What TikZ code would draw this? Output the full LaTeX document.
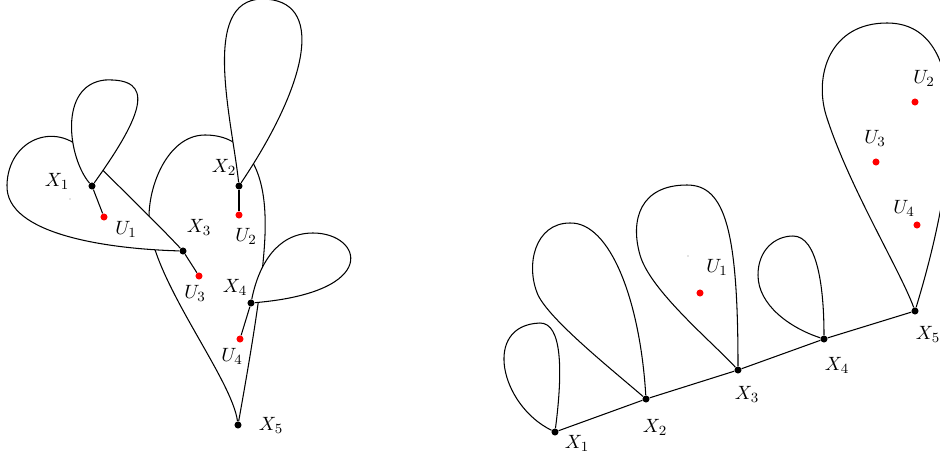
\documentclass[tikz,border=0pt]{standalone}
\usepackage{tikz}
\usetikzlibrary{positioning, backgrounds}
\definecolor{uptred}{HTML}{FF0000}
\tikzset{
  vxnode/.style={circle,fill=black,inner sep=0pt,minimum size=4pt},
  upnode/.style={circle,fill=uptred,inner sep=0pt,minimum size=4pt},
  specknode/.style={circle,fill=black!45,inner sep=0pt,minimum size=0.7pt},
  lblnode/.style={inner sep=0pt,font=\fontsize{11}{13}\selectfont},
  petal/.style={draw=black,fill=white,line width=0.6pt},
  stem/.style={line width=0.6pt},
}

\begin{document}
\begin{tikzpicture}[x=0.02cm,y=-0.02cm]
  \useasboundingbox (0,0) rectangle (940,460);
  % left picture
  \node[vxnode] (lx1) at (92,186) {};
  \node[vxnode] (lx2) at (239,186) {};
  \node[vxnode] (lx3) at (183,251) {};
  \node[vxnode] (lx4) at (251,303) {};
  \node[vxnode] (lx5) at (238,425) {};
  \node[upnode] (lu1) at (104,217) {};
  \node[upnode] (lu2) at (239,215) {};
  \node[upnode] (lu3) at (199,276) {};
  \node[upnode] (lu4) at (240,339) {};
  \node[specknode] (lsp) at (70,199) {};
  \node[lblnode] (llx1) at (57,181) {$X_1$};
  \node[lblnode] (llx2) at (224,167) {$X_2$};
  \node[lblnode] (llx3) at (199,227) {$X_3$};
  \node[lblnode] (llx4) at (235,287) {$X_4$};
  \node[lblnode] (llx5) at (271,425) {$X_5$};
  \node[lblnode] (llu1) at (126,229) {$U_1$};
  \node[lblnode] (llu2) at (246,236) {$U_2$};
  \node[lblnode] (llu3) at (195,293) {$U_3$};
  \node[lblnode] (llu4) at (232,356) {$U_4$};
  \draw[stem] (lx1) -- (lu1);
  \draw[stem] (lx2) -- (lu2);
  \draw[stem] (lx3) -- (lu3);
  \draw[stem] (lx4) -- (lu4);
  % right picture
  \node[vxnode] (rx1) at (555,432) {};
  \node[vxnode] (rx2) at (646,399) {};
  \node[vxnode] (rx3) at (738,370) {};
  \node[vxnode] (rx4) at (824,339) {};
  \node[vxnode] (rx5) at (915,311) {};
  \node[upnode] (ru1) at (700,293) {};
  \node[upnode] (ru2) at (915,102) {};
  \node[upnode] (ru3) at (876,162) {};
  \node[upnode] (ru4) at (917,225) {};
  \node[specknode] (rsp) at (688,256) {};
  \node[lblnode] (rlx1) at (577,443) {$X_1$};
  \node[lblnode] (rlx2) at (655,427) {$X_2$};
  \node[lblnode] (rlx3) at (747,394) {$X_3$};
  \node[lblnode] (rlx4) at (837,365) {$X_4$};
  \node[lblnode] (rlx5) at (928,334) {$X_5$};
  \node[lblnode] (rlu1) at (717,267) {$U_1$};
  \node[lblnode] (rlu2) at (924,78) {$U_2$};
  \node[lblnode] (rlu3) at (875,138) {$U_3$};
  \node[lblnode] (rlu4) at (904,208) {$U_4$};
  \draw[stem] (rx1) -- (rx2) -- (rx3) -- (rx4) -- (rx5);
  \begin{scope}[on background layer]
    % left loops, back to front
    \draw[petal] (lx5) .. controls (232,380) and (160,290) .. (150,230)
      .. controls (144,195) and (165,135) .. (205,135)
      .. controls (240,135) and (263,160) .. (265,215)
      .. controls (267,255) and (255,330) .. (lx5);
    \draw[petal] (lx3) .. controls (110,249) and (5,235) .. (7,185)
      .. controls (8,140) and (55,120) .. (85,152)
      .. controls (120,188) and (150,216) .. (lx3);
    \draw[petal] (lx1) .. controls (68,158) and (58,85) .. (105,80)
      .. controls (155,78) and (145,112) .. (lx1);
    \draw[petal] (lx2) .. controls (232,120) and (200,0) .. (262,-1)
      .. controls (325,-1) and (310,80) .. (lx2);
    \draw[petal] (lx4) .. controls (258,268) and (275,233) .. (313,233)
      .. controls (362,233) and (382,292) .. (lx4);
    % right loops
    \draw[petal] (rx1) .. controls (500,405) and (482,325) .. (540,323)
      .. controls (562,323) and (563,370) .. (rx1);
    \draw[petal] (rx2) .. controls (610,368) and (550,320) .. (538,295)
      .. controls (525,265) and (535,223) .. (570,223)
      .. controls (610,222) and (640,300) .. (rx2);
    \draw[petal] (rx3) .. controls (710,340) and (650,290) .. (640,255)
      .. controls (630,220) and (640,185) .. (687,185)
      .. controls (725,185) and (738,230) .. (rx3);
    \draw[petal] (rx4) .. controls (790,328) and (758,305) .. (758,275)
      .. controls (758,250) and (775,236) .. (793,236)
      .. controls (818,236) and (824,290) .. (rx4);
    \draw[petal] (rx5) .. controls (900,270) and (848,185) .. (826,115)
      .. controls (814,75) and (830,23) .. (887,23)
      .. controls (966,23) and (964,150) .. (rx5);
  \end{scope}
\end{tikzpicture}
\end{document}
